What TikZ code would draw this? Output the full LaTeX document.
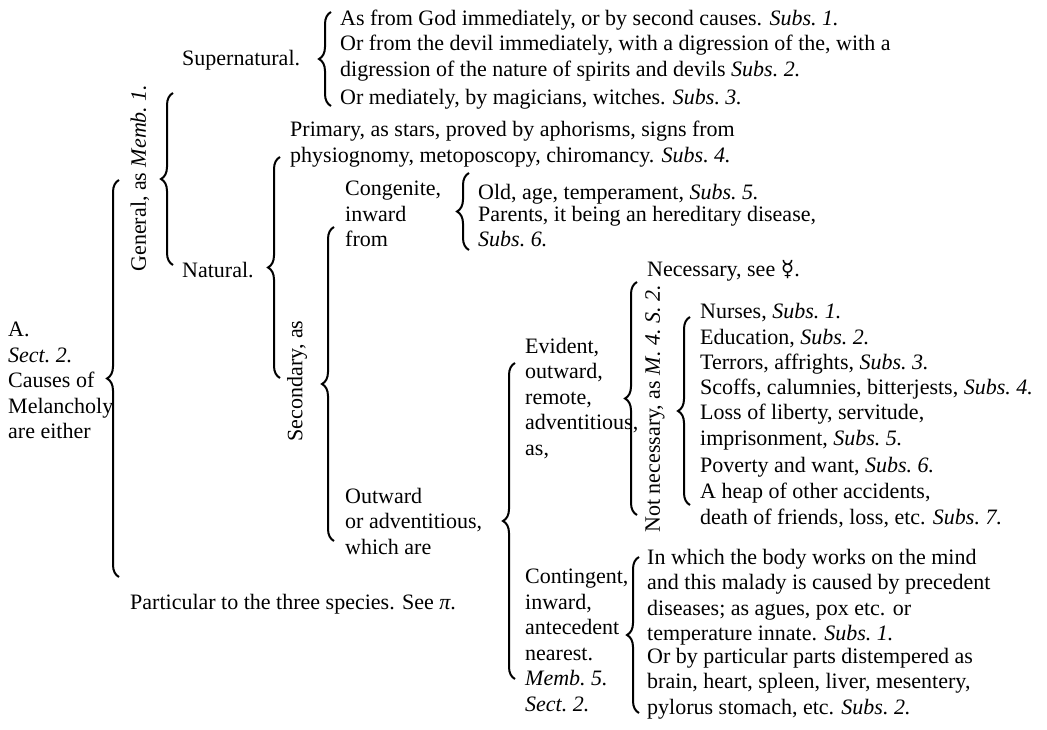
\documentclass[tikz,border=0pt]{standalone}
\usepackage{fontspec}
\setmainfont{Liberation Serif}
\newfontfamily\symf{DejaVu Sans}
\usetikzlibrary{decorations.pathreplacing}
\begin{document}
\begin{tikzpicture}[x=1pt,y=-1pt,
  txt/.style={anchor=north west, inner sep=0pt, align=left, font=\fontsize{22}{25.5}\selectfont, execute at begin node=\strut},
  txtw/.style={txt, font=\fontsize{22}{26.3}\selectfont},
  vtxt/.style={anchor=center, inner sep=0pt, rotate=90, font=\fontsize{22}{25.5}\selectfont},
  brc/.style={decorate, decoration={brace, amplitude=12pt}, line width=2pt}]
\fill[white] (0,0) rectangle (1047,730);
\useasboundingbox (0,0) rectangle (1047,730);

% texts
\node[txt] (root) at (8,322) {A.\\\textit{Sect.\ 2.}\\Causes of\\Melancholy\\are either};
\node[txt] (particular) at (130,591) {Particular to the three species. See \textit{π}.};
\node[vtxt] (general) at (140,178) {General, as \textit{Memb.\ 1.}};
\node[txt] (super) at (182,47) {Supernatural.};
\node[txt] (s1) at (340,7) {As from God immediately, or by second causes. \textit{Subs.\ 1.}};
\node[txtw] (s2) at (340,35) {Or from the devil immediately, with a digression of the, with a\\digression of the nature of spirits and devils \textit{Subs.\ 2.}};
\node[txt] (s3) at (340,86) {Or mediately, by magicians, witches. \textit{Subs.\ 3.}};
\node[txt] (natural) at (182,259) {Natural.};
\node[txt] (primary) at (290,121) {Primary, as stars, proved by aphorisms, signs from\\physiognomy, metoposcopy, chiromancy. \textit{Subs.\ 4.}};
\node[vtxt] (secondary) at (297,381) {Secondary, as};
\node[txt] (congenite) at (345,181) {Congenite,\\inward\\from};
\node[txt] (c1) at (478,181) {Old, age, temperament, \textit{Subs.\ 5.}};
\node[txt] (c2) at (478,206) {Parents, it being an hereditary disease,\\\textit{Subs.\ 6.}};
\node[txt] (outward) at (345,488) {Outward\\or adventitious,\\which are};
\node[txt] (evident) at (525,338) {Evident,\\outward,\\remote,\\adventitious,\\as,};
\node[txt] (necessary) at (647,258) {Necessary, see {\symf ☿}.};
\node[vtxt] (notnec) at (655,409) {Not necessary, as \textit{M.\ 4.\ S.\ 2.}};
\node[txt] (n1) at (700,300) {Nurses, \textit{Subs.\ 1.}};
\node[txt] (n2) at (700,326) {Education, \textit{Subs.\ 2.}};
\node[txt] (n3) at (700,351) {Terrors, affrights, \textit{Subs.\ 3.}};
\node[txt] (n4) at (700,376) {Scoffs, calumnies, bitterjests, \textit{Subs.\ 4.}};
\node[txt] (n5) at (700,404) {Loss of liberty, servitude,\\imprisonment, \textit{Subs.\ 5.}};
\node[txt] (n6) at (700,454) {Poverty and want, \textit{Subs.\ 6.}};
\node[txt] (n7) at (700,483) {A heap of other accidents,\\death of friends, loss, etc. \textit{Subs.\ 7.}};
\node[txt] (contingent) at (525,569) {Contingent,\\inward,\\antecedent\\nearest.\\\textit{Memb.\ 5.}\\\textit{Sect.\ 2.}};
\node[txt] (k1) at (647,549) {In which the body works on the mind\\and this malady is caused by precedent\\diseases; as agues, pox etc. or\\temperature innate. \textit{Subs.\ 1.}};
\node[txt] (k2) at (647,648) {Or by particular parts distempered as\\brain, heart, spleen, liver, mesentery,\\pylorus stomach, etc. \textit{Subs.\ 2.}};

% brace end points
\coordinate (b1t) at (119,180);  \coordinate (b1b) at (119,577);
\coordinate (b2t) at (173,93);   \coordinate (b2b) at (173,265);
\coordinate (b3t) at (331,12);   \coordinate (b3b) at (331,106);
\coordinate (b4t) at (280,157);  \coordinate (b4b) at (280,378);
\coordinate (b5t) at (334,227);  \coordinate (b5b) at (334,541);
\coordinate (b6t) at (469,173);  \coordinate (b6b) at (469,250);
\coordinate (b7t) at (515,363);  \coordinate (b7b) at (515,679);
\coordinate (b8t) at (637,282);  \coordinate (b8b) at (637,515);
\coordinate (b9t) at (690,317);  \coordinate (b9b) at (690,505);
\coordinate (b10t) at (639,557); \coordinate (b10b) at (639,713);

\draw[brc] (b1b) -- (b1t);
\draw[brc] (b2b) -- (b2t);
\draw[brc] (b3b) -- (b3t);
\draw[brc] (b4b) -- (b4t);
\draw[brc] (b5b) -- (b5t);
\draw[brc] (b6b) -- (b6t);
\draw[brc] (b7b) -- (b7t);
\draw[brc] (b8b) -- (b8t);
\draw[brc] (b9b) -- (b9t);
\draw[brc] (b10b) -- (b10t);
\end{tikzpicture}
\end{document}
